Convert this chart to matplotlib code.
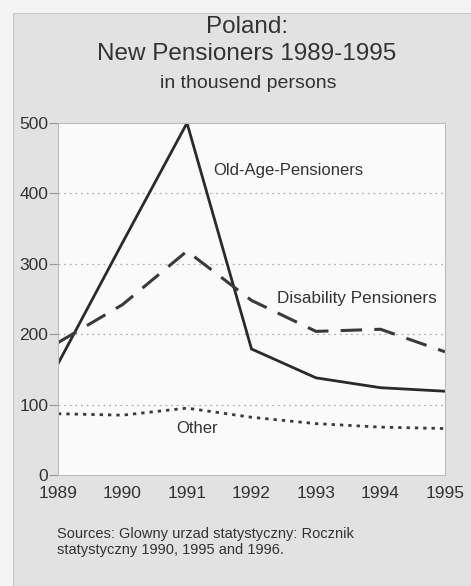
import matplotlib.pyplot as plt
from matplotlib.patches import Rectangle

# ---------- DATA ----------
years = [1989, 1990, 1991, 1992, 1993, 1994, 1995]
old_age = [158, 330, 500, 179, 138, 124, 119]
disability = [188, 242, 318, 248, 204, 207, 175]
other = [87, 85, 95, 82, 73, 68, 66]
y_ticks = [0, 100, 200, 300, 400, 500]

plt.rcParams['font.family'] = ['Liberation Sans', 'DejaVu Sans']

fig = plt.figure(figsize=(4.71, 5.86), dpi=100)
fig.patch.set_facecolor('#f4f4f4')

# grey panel behind everything
fig.patches.append(Rectangle((13 / 471, 0), 1, 1 - 13 / 586,
                             transform=fig.transFigure, facecolor='#e2e2e2',
                             edgecolor='#c8c8c8', lw=0.8, zorder=-10))

ax = fig.add_axes([58 / 471, 111 / 586, 387 / 471, 352 / 586])
ax.set_zorder(5)
ax.set_facecolor('#fafafa')

ink = '#2a2a2a'
ax.plot(years, old_age, color=ink, lw=2.0, solid_joinstyle='miter')
ax.plot(years, disability, color='#3a3a3a', lw=2.2, dashes=(7, 4))
ax.plot(years, other, color='#3a3a3a', lw=2.0, dashes=(1.2, 1.8))

ax.set_xlim(1989, 1995)
ax.set_ylim(0, 500)
ax.set_yticks(y_ticks)
ax.set_xticks(years)
for y in y_ticks[1:-1]:
    ax.axhline(y, color='#b0b0b0', lw=0.9, dashes=(1.5, 3), zorder=0)

for s in ax.spines.values():
    s.set_color('#bdbdbd')
    s.set_linewidth(0.8)
ax.tick_params(axis='y', length=6.5, color='#999999', labelsize=12.5,
               labelcolor='#333333', pad=0.5)
ax.tick_params(axis='x', length=0, labelsize=12.5, labelcolor='#333333', pad=8)

# series labels
ax.text(1991.4, 433, 'Old-Age-Pensioners', fontsize=12, color='#333333',
        va='center')
ax.text(1992.4, 250, 'Disability Pensioners', fontsize=12.3,
        color='#333333', va='center')
ax.text(1990.83, 66, 'Other', fontsize=12, color='#333333', va='center')

# titles
fig.text(247 / 471, 1 - 27 / 586, 'Poland:', ha='center', va='center',
         fontsize=17.5, color='#333333')
fig.text(247 / 471, 1 - 54 / 586, 'New Pensioners 1989-1995', ha='center',
         va='center', fontsize=17.5, color='#333333')
fig.text(248 / 471, 1 - 83 / 586, 'in thousend persons', ha='center',
         va='center', fontsize=14, color='#333333')

fig.text(57 / 471, 1 - 542 / 586,
         'Sources: Glowny urzad statystyczny: Rocznik\n'
         'statystyczny 1990, 1995 and 1996.',
         ha='left', va='center', fontsize=10.5, color='#333333',
         linespacing=1.25)

fig.savefig('out.png', dpi=100, facecolor=fig.get_facecolor())
